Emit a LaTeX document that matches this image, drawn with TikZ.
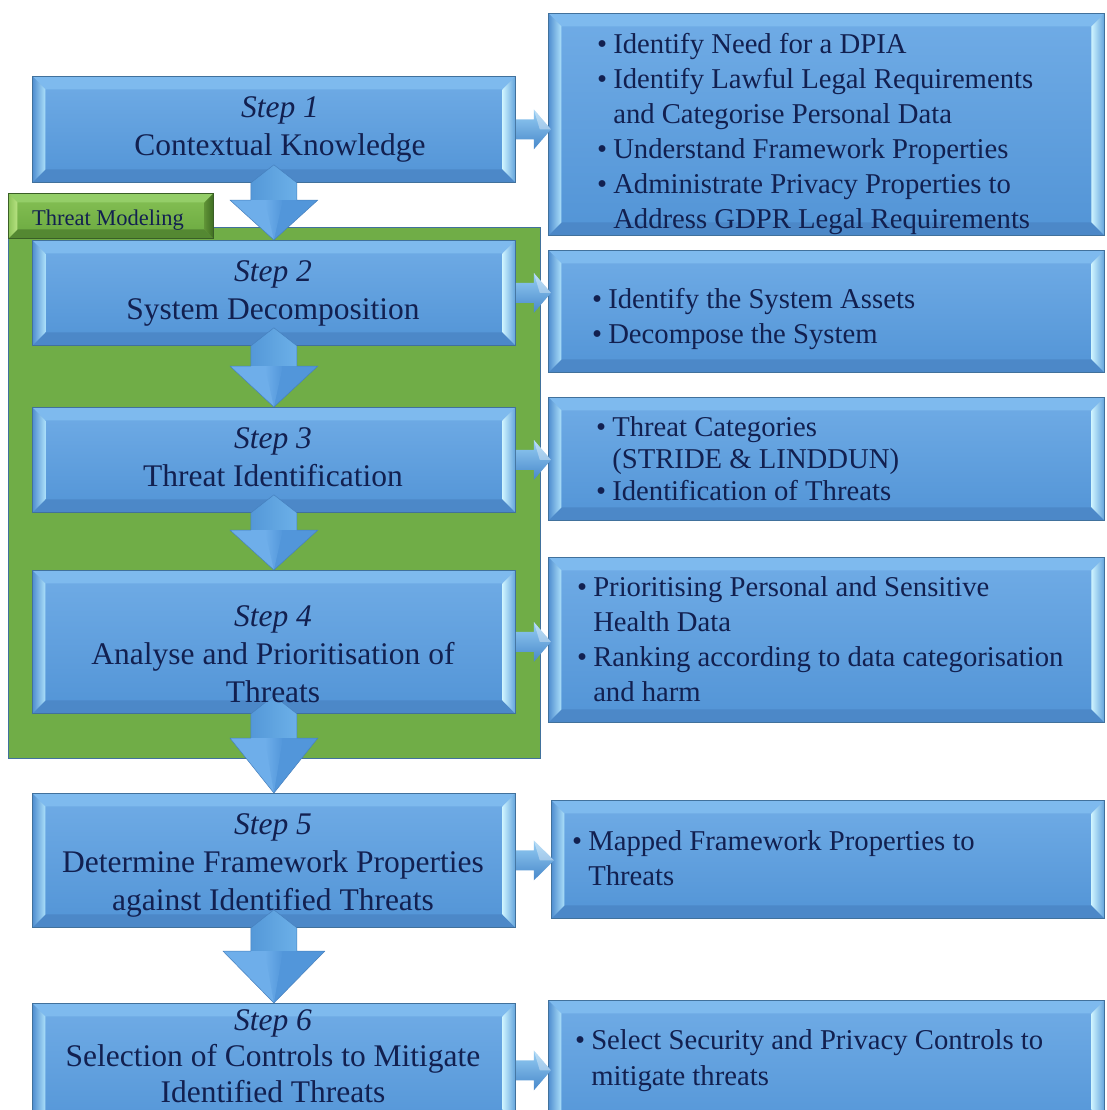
\documentclass[tikz,border=0pt]{standalone}
\usepackage{fontspec}
\setmainfont{Liberation Serif}
\usetikzlibrary{calc}

% palette
\definecolor{ink}{RGB}{18,32,80}
\definecolor{edge}{RGB}{65,113,156}
\definecolor{faceTop}{RGB}{112,172,230}
\definecolor{faceBot}{RGB}{82,148,214}
\definecolor{bevOut}{RGB}{80,142,208}
\definecolor{bevIn}{RGB}{172,224,250}
\definecolor{bevRIn}{RGB}{205,243,255}
\definecolor{bevROut}{RGB}{98,163,220}
\definecolor{bevTop}{RGB}{126,186,238}
\definecolor{bevBot}{RGB}{76,136,200}
\definecolor{gFill}{RGB}{112,173,71}
\definecolor{gEdge}{RGB}{58,95,38}
\definecolor{gTop}{RGB}{134,193,85}
\definecolor{gBot}{RGB}{106,168,63}
\definecolor{gBevOut}{RGB}{140,196,90}
\definecolor{gBevIn}{RGB}{184,226,130}
\definecolor{gBevRIn}{RGB}{95,146,54}
\definecolor{gBevROut}{RGB}{62,109,34}
\definecolor{gBevTop}{RGB}{148,206,104}
\definecolor{gBevBot}{RGB}{84,136,50}
\definecolor{arA}{RGB}{84,152,216}
\definecolor{arHi}{RGB}{186,232,252}
\definecolor{arB}{RGB}{108,176,232}
\definecolor{arWingL}{RGB}{110,174,234}
\definecolor{arWingR}{RGB}{82,150,218}
\definecolor{arEdge}{RGB}{70,128,190}
\definecolor{raTop}{RGB}{150,206,244}
\definecolor{raBot}{RGB}{72,136,202}

% bevelled faces drawn inside a rectangular node
% #1 bevel size, #2/#3 left bevel outer/inner, #4/#5 right bevel inner/outer, #6 top, #7 bottom
\newcommand\bevelfaces[7]{%
  \coordinate (bA) at (path picture bounding box.south west);
  \coordinate (bB) at (path picture bounding box.south east);
  \coordinate (bC) at (path picture bounding box.north east);
  \coordinate (bD) at (path picture bounding box.north west);
  \coordinate (ba) at ([shift={(#1,-#1)}]bA);
  \coordinate (bb) at ([shift={(-#1,-#1)}]bB);
  \coordinate (bc) at ([shift={(-#1,#1)}]bC);
  \coordinate (bd) at ([shift={(#1,#1)}]bD);
  \fill[#6] (bD) -- (bd) -- (bc) -- (bC) -- cycle;
  \fill[#7] (bA) -- (ba) -- (bb) -- (bB) -- cycle;
  \shade[left color=#2, right color=#3] (bA) -- (ba) -- (bd) -- (bD) -- cycle;
  \shade[left color=#4, right color=#5] (bB) -- (bb) -- (bc) -- (bC) -- cycle;
}

% thick downward block arrow from one step to the next
% #1 source, #2 target, #3 head length, #4 head half width
\newcommand\dnarrow[4]{%
  \coordinate (#1-t) at ($(#1.south)+(0,-18)$);
  \coordinate (#1-p) at (#2.north);
  \shade[left color=arA, middle color=arHi, right color=arB]
    ($(#1-p)+(-23,-#3)$) -- ($(#1-t)+(-23,18)$) -- (#1-t) -- ($(#1-t)+(23,18)$)
    -- ($(#1-p)+(23,-#3)$) -- cycle;
  \fill[arWingL] ($(#1-p)+(-#4,-#3)$) -- ($(#1-p)+(0,-#3)$) -- (#1-p) -- cycle;
  \fill[arWingR] ($(#1-p)+(0,-#3)$) -- ($(#1-p)+(#4,-#3)$) -- (#1-p) -- cycle;
  \shade[left color=arWingL, middle color=arHi, right color=arWingR]
    ($(#1-p)+(-9,-#3)$) -- ($(#1-p)+(9,-#3)$) -- (#1-p) -- cycle;
  \draw[arEdge, line width=0.5pt, line join=round]
    (#1-p) -- ($(#1-p)+(-#4,-#3)$) -- ($(#1-p)+(-23,-#3)$) -- ($(#1-t)+(-23,18)$)
    -- (#1-t) -- ($(#1-t)+(23,18)$) -- ($(#1-p)+(23,-#3)$) -- ($(#1-p)+(#4,-#3)$) -- cycle;
}

% small sideways arrow from a step to its detail box
\newcommand\rtarrow[2]{%
  \coordinate (#1-e) at (#1.east);
  \coordinate (#1-q0) at (#2.west |- #1.east);
  \coordinate (#1-q) at ($(#1-q0)+(3,0)$);
  \shade[top color=raTop, bottom color=raBot]
    ($(#1-e)+(0,-10)$) -- ($(#1-e)+(18,-10)$) -- ($(#1-e)+(18,-20)$) -- (#1-q)
    -- ($(#1-e)+(18,20)$) -- ($(#1-e)+(18,10)$) -- ($(#1-e)+(0,10)$) -- cycle;
  \fill[white, opacity=0.35] ($(#1-e)+(18,-20)$) -- (#1-q) -- ($(#1-e)+(24,0)$) -- cycle;
}

\tikzset{
  bluebox/.style={draw=edge, line width=0.8pt, top color=faceTop, bottom color=faceBot,
    inner sep=0pt, anchor=north west,
    path picture={\bevelfaces{13}{bevOut}{bevIn}{bevRIn}{bevROut}{bevTop}{bevBot}}},
  greenbox/.style={draw=gEdge, line width=0.8pt, top color=gTop, bottom color=gBot,
    inner sep=0pt, anchor=north west,
    path picture={\bevelfaces{9}{gBevOut}{gBevIn}{gBevRIn}{gBevROut}{gBevTop}{gBevBot}}},
  steptext/.style={anchor=base, inner sep=0pt, text=ink, font=\fontsize{31.5}{38}\selectfont},
  listtext/.style={anchor=base west, inner sep=0pt, text=ink, font=\fontsize{28.7}{35}\selectfont},
}

\begin{document}
\begin{tikzpicture}[x=1pt, y=-1pt]
\useasboundingbox (0,0) rectangle (1106,1110);
\clip (0,0) rectangle (1106,1110);
\fill[white] (0,0) rectangle (1106,1110);

% threat modelling group
\node[draw=edge, line width=1pt, fill=gFill, inner sep=0pt, anchor=north west,
      minimum width=532pt, minimum height=531pt] (tm) at (8,227) {};
\node[greenbox, minimum width=205pt, minimum height=45pt] (tml) at (8,193) {};

% step boxes
\node[bluebox, minimum width=483pt, minimum height=106pt] (s1) at (32,76) {};
\node[bluebox, minimum width=483pt, minimum height=105pt] (s2) at (32,240) {};
\node[bluebox, minimum width=483pt, minimum height=105pt] (s3) at (32,407) {};
\node[bluebox, minimum width=483pt, minimum height=143pt] (s4) at (32,570) {};
\node[bluebox, minimum width=483pt, minimum height=134pt] (s5) at (32,793) {};
\node[bluebox, minimum width=483pt, minimum height=134pt] (s6) at (32,1003) {};

% detail boxes
\node[bluebox, minimum width=556pt, minimum height=222pt] (r1) at (548,13) {};
\node[bluebox, minimum width=556pt, minimum height=122pt] (r2) at (548,250) {};
\node[bluebox, minimum width=556pt, minimum height=123pt] (r3) at (548,397) {};
\node[bluebox, minimum width=556pt, minimum height=165pt] (r4) at (548,557) {};
\node[bluebox, minimum width=553pt, minimum height=118pt] (r5) at (551,800) {};
\node[bluebox, minimum width=556pt, minimum height=140pt] (r6) at (548,1000) {};

% arrows between steps
\dnarrow{s1}{s2}{40}{44}
\dnarrow{s2}{s3}{41}{44}
\dnarrow{s3}{s4}{40}{44}
\dnarrow{s4}{s5}{55}{44}
\dnarrow{s5}{s6}{52}{51}

% arrows to detail boxes
\rtarrow{s1}{r1}
\rtarrow{s2}{r2}
\rtarrow{s3}{r3}
\rtarrow{s4}{r4}
\rtarrow{s5}{r5}
\rtarrow{s6}{r6}

% labels
\node[anchor=base, inner sep=0pt, text=ink, font=\fontsize{22.5}{26}\selectfont] (tmt) at (108,225) {Threat Modeling};

\node[steptext] (s1t) at (280,118) {\begin{tabular}[t]{@{}c@{}}\textit{Step 1}\\Contextual Knowledge\end{tabular}};
\node[steptext] (s2t) at (273,281) {\begin{tabular}[t]{@{}c@{}}\textit{Step 2}\\System Decomposition\end{tabular}};
\node[steptext] (s3t) at (273,448) {\begin{tabular}[t]{@{}c@{}}\textit{Step 3}\\Threat Identification\end{tabular}};
\node[steptext] (s4t) at (273,626) {\begin{tabular}[t]{@{}c@{}}\textit{Step 4}\\Analyse and Prioritisation of\\Threats\end{tabular}};
\node[steptext] (s5t) at (273,834) {\begin{tabular}[t]{@{}c@{}}\textit{Step 5}\\Determine Framework Properties\\against Identified Threats\end{tabular}};
\node[steptext, font=\fontsize{31.5}{36}\selectfont] (s6t) at (273,1030) {\begin{tabular}[t]{@{}c@{}}\textit{Step 6}\\Selection of Controls to Mitigate\\Identified Threats\end{tabular}};

\node[listtext] (r1t) at (597,54) {\begin{tabular}[t]{@{}l@{\hspace{6pt}}l@{}}
\textbullet & Identify Need for a DPIA\\
\textbullet & Identify Lawful Legal Requirements\\
 & and Categorise Personal Data\\
\textbullet & Understand Framework Properties\\
\textbullet & Administrate Privacy Properties to\\
 & Address GDPR Legal Requirements
\end{tabular}};
\node[listtext] (r2t) at (592,308) {\begin{tabular}[t]{@{}l@{\hspace{6pt}}l@{}}
\textbullet & Identify the System Assets\\
\textbullet & Decompose the System
\end{tabular}};
\node[listtext, font=\fontsize{28.7}{32}\selectfont] (r3t) at (596,436) {\begin{tabular}[t]{@{}l@{\hspace{6pt}}l@{}}
\textbullet & Threat Categories\\
 & (STRIDE \& LINDDUN)\\
\textbullet & Identification of Threats
\end{tabular}};
\node[listtext] (r4t) at (577,596) {\begin{tabular}[t]{@{}l@{\hspace{6pt}}l@{}}
\textbullet & Prioritising Personal and Sensitive\\
 & Health Data\\
\textbullet & Ranking according to data categorisation\\
 & and harm
\end{tabular}};
\node[listtext] (r5t) at (572,850) {\begin{tabular}[t]{@{}l@{\hspace{6pt}}l@{}}
\textbullet & Mapped Framework Properties to\\
 & Threats
\end{tabular}};
\node[listtext, font=\fontsize{28.7}{36}\selectfont] (r6t) at (575,1049) {\begin{tabular}[t]{@{}l@{\hspace{6pt}}l@{}}
\textbullet & Select Security and Privacy Controls to\\
 & mitigate threats
\end{tabular}};
\end{tikzpicture}
\end{document}
